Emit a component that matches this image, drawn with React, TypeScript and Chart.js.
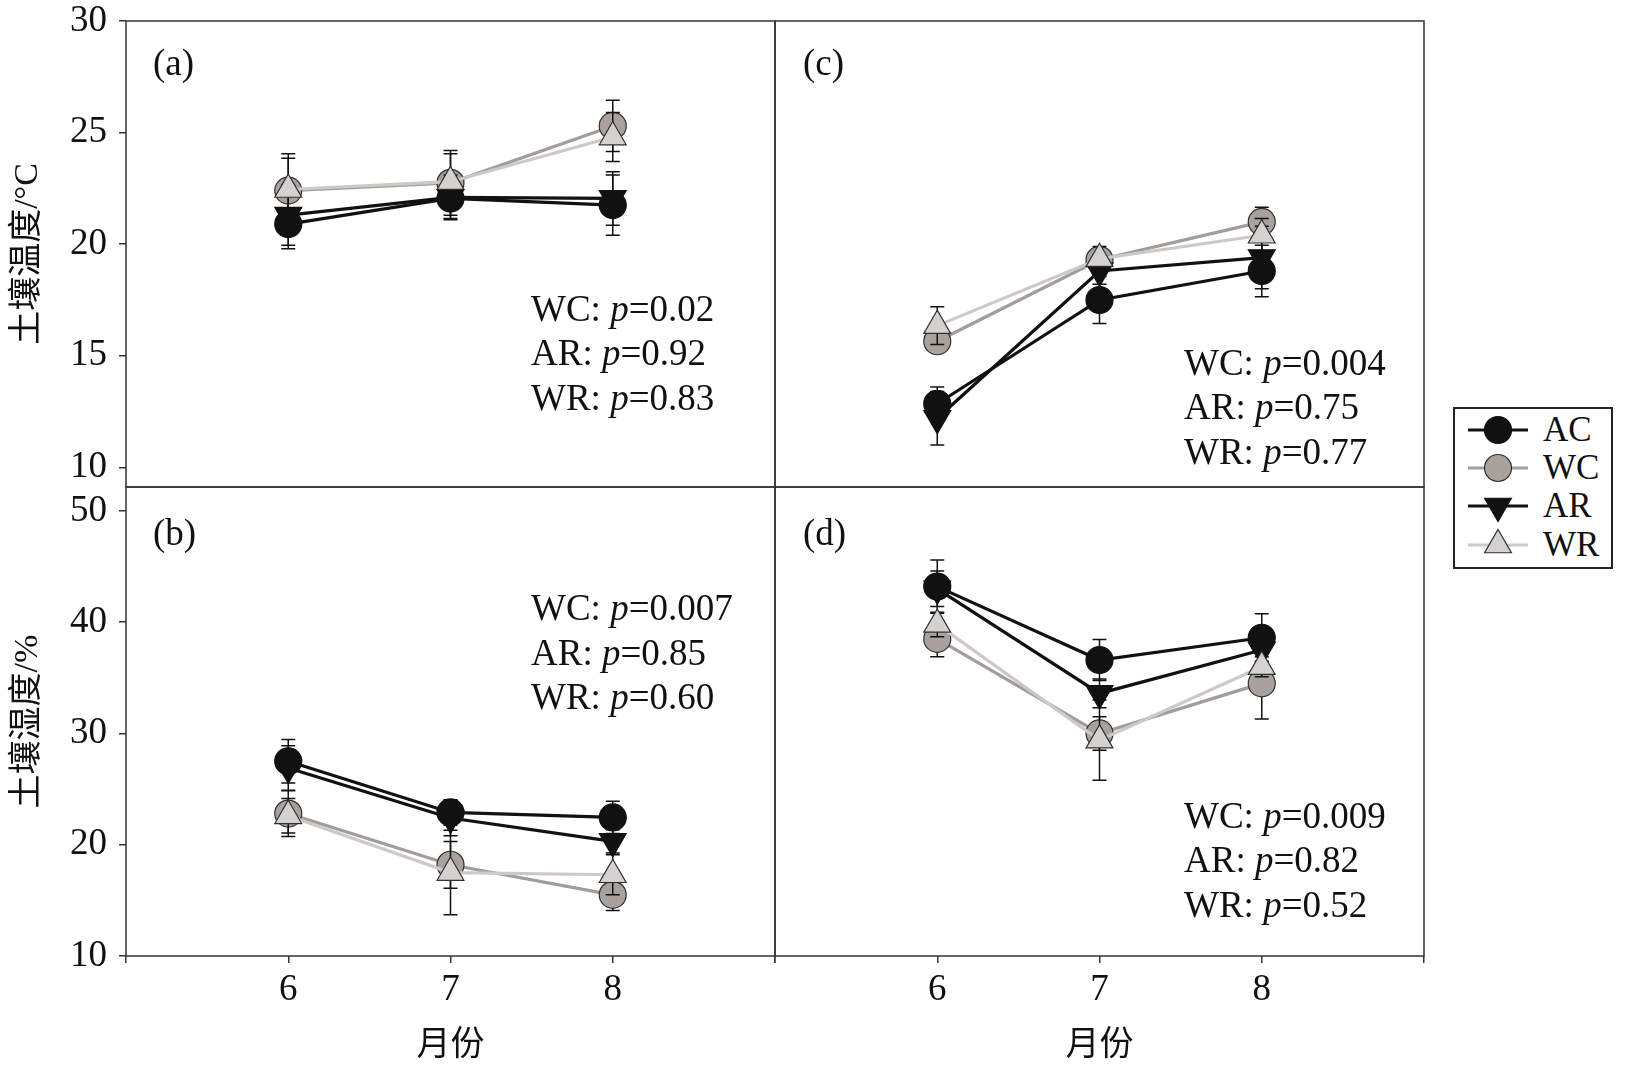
import React, { useEffect, useRef } from 'react';
import { Chart, registerables } from 'chart.js';

Chart.register(...registerables);

// ---------------- data ----------------
const months = [6, 7, 8];
const xTickLabels = ['6', '7', '8'];
const seriesNames = ['AC', 'WC', 'AR', 'WR'];

// (a) soil temperature, left column
const tempA_AC = [20.9, 22.05, 21.75];
const tempA_WC = [22.4, 22.75, 25.3];
const tempA_AR = [21.3, 22.1, 22.05];
const tempA_WR = [22.45, 22.8, 24.8];
const tempA_AC_err = [1.1, 0.9, 1.35];
const tempA_WC_err = [1.65, 1.45, 1.15];
const tempA_AR_err = [1.35, 1.0, 1.2];
const tempA_WR_err = [1.4, 1.25, 1.1];

// (c) soil temperature, right column
const tempC_AC = [12.85, 17.5, 18.8];
const tempC_WC = [15.65, 19.3, 21.0];
const tempC_AR = [12.2, 18.8, 19.4];
const tempC_WR = [16.35, 19.35, 20.4];
const tempC_AC_err = [0.75, 1.05, 1.15];
const tempC_WC_err = [0.3, 0.5, 0.65];
const tempC_AR_err = [1.2, 0.6, 1.4];
const tempC_WR_err = [0.85, 0.55, 0.75];

// (b) soil moisture, left column
const moistB_AC = [27.5, 22.9, 22.45];
const moistB_WC = [22.8, 18.2, 15.5];
const moistB_AR = [26.9, 22.4, 20.3];
const moistB_WR = [22.6, 17.5, 17.3];
const moistB_AC_err = [1.95, 1.15, 1.45];
const moistB_WC_err = [2.05, 2.1, 1.4];
const moistB_AR_err = [2.0, 1.6, 1.05];
const moistB_WR_err = [1.55, 3.8, 1.8];

// (d) soil moisture, right column
const moistD_AC = [43.2, 36.6, 38.6];
const moistD_WC = [38.5, 30.0, 34.5];
const moistD_AR = [43.0, 33.6, 37.5];
const moistD_WR = [39.8, 29.4, 36.0];
const moistD_AC_err = [2.4, 1.85, 2.15];
const moistD_WC_err = [1.6, 1.5, 3.2];
const moistD_AR_err = [1.6, 1.3, 1.0];
const moistD_WR_err = [1.1, 3.6, 0.9];

// p-value annotations
const statLabels = ['WC', 'AR', 'WR'];
const statsA = ['0.02', '0.92', '0.83'];
const statsB = ['0.007', '0.85', '0.60'];
const statsC = ['0.004', '0.75', '0.77'];
const statsD = ['0.009', '0.82', '0.52'];

// axes
const tempRange = { min: 9.12, max: 30, step: 5 };
const moistRange = { min: 10, max: 52.15, step: 10 };
const xRange = { min: 5, max: 9 };
const yTitleTemp = '土壤温度/°C';
const yTitleMoist = '土壤湿度/%';
const xTitle = '月份';

// ---------------- styles ----------------
const SERIF = "'Liberation Serif', 'Times New Roman', serif";
const TITLE_FONT = "'Liberation Serif', 'Noto Sans CJK SC', serif";
const INK = '#111111';
const lineColors = ['#111111', '#a29d9a', '#111111', '#cdc9c6'];
const fillColors = ['#111111', '#a8a19d', '#111111', '#d5d1ce'];
const edgeColors = ['#111111', '#303030', '#111111', '#303030'];
const pointStyles = ['circle', 'circle', 'triangle', 'triangle'];
const pointRotations = [0, 0, 180, 0];
const pointRadii = [13.5, 13.5, 15.5, 15.5];

const framePlugin = {
  id: 'panelFrame',
  beforeDatasetsDraw(chart: any) {
    const { ctx, chartArea } = chart;
    const { left, top, right, bottom } = chartArea;
    ctx.save();
    ctx.strokeStyle = '#333333';
    ctx.lineWidth = 1.5;
    ctx.strokeRect(left, top, right - left, bottom - top);
    ctx.restore();
  },
};

const errorBarPlugin = {
  id: 'errorBars',
  beforeDatasetDraw(chart: any, args: any) {
    const ds = chart.data.datasets[args.index];
    const errs: number[] | undefined = ds.errors;
    if (!errs) return;
    const { ctx } = chart;
    const xs = chart.scales.x;
    const ys = chart.scales.y;
    ctx.save();
    ctx.strokeStyle = INK;
    ctx.lineWidth = 1.5;
    ds.data.forEach((p: any, i: number) => {
      const px = xs.getPixelForValue(p.x);
      const t = ys.getPixelForValue(p.y + errs[i]);
      const b = ys.getPixelForValue(p.y - errs[i]);
      const cw = 7;
      ctx.beginPath();
      ctx.moveTo(px, t);
      ctx.lineTo(px, b);
      ctx.moveTo(px - cw, t);
      ctx.lineTo(px + cw, t);
      ctx.moveTo(px - cw, b);
      ctx.lineTo(px + cw, b);
      ctx.stroke();
    });
    ctx.restore();
  },
};

function makeDatasets(values: number[][], errors: number[][]) {
  return seriesNames.map((name, s) => ({
    label: name,
    data: months.map((m, i) => ({ x: m, y: values[s][i] })),
    errors: errors[s],
    order: seriesNames.length - 1 - s,
    borderColor: lineColors[s],
    borderWidth: 3.2,
    backgroundColor: fillColors[s],
    pointStyle: pointStyles[s],
    pointRotation: pointRotations[s],
    pointRadius: pointRadii[s],
    pointHoverRadius: pointRadii[s],
    pointBackgroundColor: fillColors[s],
    pointBorderColor: edgeColors[s],
    pointBorderWidth: 1.2,
    tension: 0,
    fill: false,
  }));
}

type PanelSpec = {
  key: string;
  values: number[][];
  errors: number[][];
  range: { min: number; max: number; step: number };
  yTitle: string;
  showY: boolean;
  showX: boolean;
  canvas: { left: number; top: number; width: number; height: number };
  padding: { left: number; top: number; right: number; bottom: number };
};

const tickGrid = {
  display: true,
  drawOnChartArea: false,
  drawTicks: true,
  tickLength: 7,
  color: '#333333',
  lineWidth: 1.5,
};

function buildConfig(p: PanelSpec): any {
  return {
    type: 'line',
    data: { datasets: makeDatasets(p.values, p.errors) },
    options: {
      responsive: false,
      animation: false,
      devicePixelRatio: 1,
      events: [],
      layout: { padding: p.padding },
      plugins: {
        legend: { display: false },
        tooltip: { enabled: false },
        title: { display: false },
      },
      scales: {
        x: {
          type: 'linear',
          min: xRange.min,
          max: xRange.max,
          display: p.showX,
          afterFit: (s: any) => {
            s.height = p.showX ? 110 : 0;
          },
          ticks: {
            stepSize: 1,
            autoSkip: false,
            maxRotation: 0,
            padding: 9,
            color: INK,
            font: { family: SERIF, size: 37, lineHeight: 1 },
            callback: (v: any) => {
              const i = months.indexOf(Number(v));
              return i >= 0 ? xTickLabels[i] : '';
            },
          },
          grid: tickGrid,
          border: { display: false },
          title: {
            display: true,
            text: xTitle,
            color: INK,
            font: { family: TITLE_FONT, size: 34 },
            padding: { top: 0, bottom: 0 },
          },
        },
        y: {
          type: 'linear',
          min: p.range.min,
          max: p.range.max,
          display: p.showY,
          afterFit: (s: any) => {
            s.width = p.showY ? 126 : 0;
          },
          ticks: {
            stepSize: p.range.step,
            includeBounds: false,
            padding: 12,
            color: INK,
            font: { family: SERIF, size: 37, lineHeight: 1 },
          },
          grid: tickGrid,
          border: { display: false },
          title: {
            display: true,
            text: p.yTitle,
            color: INK,
            font: { family: TITLE_FONT, size: 34 },
            padding: { top: 8, bottom: 0 },
          },
        },
      },
    },
    plugins: [framePlugin, errorBarPlugin],
  };
}

const panels: PanelSpec[] = [
  {
    key: 'a',
    values: [tempA_AC, tempA_WC, tempA_AR, tempA_WR],
    errors: [tempA_AC_err, tempA_WC_err, tempA_AR_err, tempA_WR_err],
    range: tempRange,
    yTitle: yTitleTemp,
    showY: true,
    showX: false,
    canvas: { left: 0, top: -19, width: 815, height: 546 },
    padding: { left: 0, top: 40, right: 40, bottom: 40 },
  },
  {
    key: 'b',
    values: [moistB_AC, moistB_WC, moistB_AR, moistB_WR],
    errors: [moistB_AC_err, moistB_WC_err, moistB_AR_err, moistB_WR_err],
    range: moistRange,
    yTitle: yTitleMoist,
    showY: true,
    showX: true,
    canvas: { left: 0, top: 447, width: 815, height: 619 },
    padding: { left: 0, top: 40, right: 40, bottom: 0 },
  },
  {
    key: 'c',
    values: [tempC_AC, tempC_WC, tempC_AR, tempC_WR],
    errors: [tempC_AC_err, tempC_WC_err, tempC_AR_err, tempC_WR_err],
    range: tempRange,
    yTitle: yTitleTemp,
    showY: false,
    showX: false,
    canvas: { left: 735, top: -19, width: 729, height: 546 },
    padding: { left: 40, top: 40, right: 40, bottom: 40 },
  },
  {
    key: 'd',
    values: [moistD_AC, moistD_WC, moistD_AR, moistD_WR],
    errors: [moistD_AC_err, moistD_WC_err, moistD_AR_err, moistD_WR_err],
    range: moistRange,
    yTitle: yTitleMoist,
    showY: false,
    showX: true,
    canvas: { left: 735, top: 447, width: 729, height: 619 },
    padding: { left: 40, top: 40, right: 40, bottom: 0 },
  },
];

function Panel({ spec }: { spec: PanelSpec }) {
  const ref = useRef<HTMLCanvasElement>(null);
  useEffect(() => {
    if (!ref.current) return;
    const chart = new Chart(ref.current, buildConfig(spec));
    return () => chart.destroy();
  }, [spec]);
  const c = spec.canvas;
  return (
    <canvas
      ref={ref}
      width={c.width}
      height={c.height}
      style={{ position: 'absolute', left: c.left, top: c.top, width: c.width, height: c.height }}
    />
  );
}

const TEXT_SIZE = 37;
const BASELINE_OFFSET = 31; // baseline distance from top of a 37px line box

const textBase: React.CSSProperties = {
  position: 'absolute',
  fontFamily: SERIF,
  fontSize: TEXT_SIZE,
  lineHeight: `${TEXT_SIZE}px`,
  color: INK,
  whiteSpace: 'nowrap',
};

function Stats({ left, baselines, values }: { left: number; baselines: number[]; values: string[] }) {
  return (
    <>
      {statLabels.map((lab, i) => (
        <div key={lab} style={{ ...textBase, left, top: baselines[i] - BASELINE_OFFSET }}>
          {lab}: <i>p</i>={values[i]}
        </div>
      ))}
    </>
  );
}

function LegendSymbol({ s, cx, cy }: { s: number; cx: number; cy: number }) {
  const r = pointRadii[s];
  let marker: React.ReactNode;
  if (pointStyles[s] === 'circle') {
    marker = <circle cx={cx} cy={cy} r={r} fill={fillColors[s]} stroke={edgeColors[s]} strokeWidth={1.2} />;
  } else {
    const rot = (pointRotations[s] * Math.PI) / 180;
    const pts: string[] = [];
    for (let k = 0; k < 3; k++) {
      const a = rot + (k * 2 * Math.PI) / 3;
      pts.push(`${cx + Math.sin(a) * r},${cy - Math.cos(a) * r}`);
    }
    marker = <polygon points={pts.join(' ')} fill={fillColors[s]} stroke={edgeColors[s]} strokeWidth={1.2} />;
  }
  return (
    <g>
      <line x1={cx - 30} y1={cy} x2={cx + 30} y2={cy} stroke={lineColors[s]} strokeWidth={3} />
      {marker}
    </g>
  );
}

function Legend() {
  const boxLeft = 1453;
  const boxTop = 407;
  const rowY = [430, 468, 506, 545];
  return (
    <>
      <div
        style={{
          position: 'absolute',
          left: boxLeft,
          top: boxTop,
          width: 160,
          height: 162,
          border: '2px solid #222',
          boxSizing: 'border-box',
          background: '#fff',
        }}
      />
      <svg
        width={1632}
        height={1073}
        style={{ position: 'absolute', left: 0, top: 0, pointerEvents: 'none' }}
      >
        {seriesNames.map((n, s) => (
          <LegendSymbol key={n} s={s} cx={1498} cy={rowY[s]} />
        ))}
      </svg>
      {seriesNames.map((n, s) => (
        <div
          key={n}
          style={{
            position: 'absolute',
            left: 1543,
            top: rowY[s] - 18,
            fontFamily: SERIF,
            fontSize: 35,
            lineHeight: '35px',
            color: INK,
            whiteSpace: 'nowrap',
          }}
        >
          {n}
        </div>
      ))}
    </>
  );
}

export default function App() {
  return (
    <div
      style={{
        position: 'absolute',
        left: 0,
        top: 0,
        width: 1632,
        height: 1073,
        overflow: 'hidden',
        background: '#ffffff',
      }}
    >
      {panels.map((p) => (
        <Panel key={p.key} spec={p} />
      ))}
      <div style={{ ...textBase, left: 153, top: 75 - BASELINE_OFFSET }}>(a)</div>
      <div style={{ ...textBase, left: 153, top: 545 - BASELINE_OFFSET }}>(b)</div>
      <div style={{ ...textBase, left: 803, top: 75 - BASELINE_OFFSET }}>(c)</div>
      <div style={{ ...textBase, left: 803, top: 545 - BASELINE_OFFSET }}>(d)</div>
      <Stats left={531} baselines={[321, 365, 410]} values={statsA} />
      <Stats left={531} baselines={[620, 665, 709]} values={statsB} />
      <Stats left={1184} baselines={[375, 419, 464]} values={statsC} />
      <Stats left={1184} baselines={[828, 872, 917]} values={statsD} />
      <Legend />
    </div>
  );
}
